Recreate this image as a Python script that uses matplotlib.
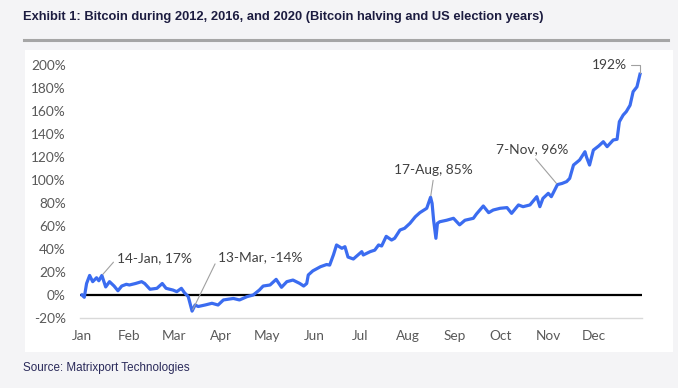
import matplotlib
matplotlib.use("Agg")
import matplotlib.pyplot as plt
from matplotlib.patches import Rectangle
from matplotlib.lines import Line2D

# ---- data (day of year 2020, cumulative return %) ----
days = [0, 1.5, 3, 5, 7, 9.5, 11, 13, 15.5, 18, 21, 23.5, 26, 29, 31, 35, 39, 41,
        44.5, 49, 52.5, 55, 59.5, 62, 65, 67, 69.5, 72, 74, 76, 80.5, 85, 89, 92.5,
        99, 103, 108, 112, 116, 118.5, 123, 127, 130.5, 134, 138, 142.5, 145, 147,
        148, 151, 156, 160, 162, 164.5, 166.5, 170, 172, 174, 177.5, 180.5, 183,
        184, 188.5, 191.5, 194, 196, 199, 202.5, 204.5, 208, 211, 214.5, 218, 221,
        223, 225.5, 228, 229, 230, 231.5, 232.5, 234, 238.5, 243, 247, 250.5, 256,
        258, 262.5, 266, 269, 273.5, 278, 281, 285.5, 288.5, 293, 297.5, 299.5,
        301.5, 305, 307, 311, 314, 317, 319, 321.5, 325.5, 329, 330, 332, 334.5,
        338, 341, 343.5, 347.5, 350, 351.5, 354, 356, 358.5, 360.5, 363, 365]
values = [0, -2, 10, 17, 11.6, 15, 12.4, 17, 7, 11.6, 7.8, 3.7, 7.8, 9.3, 8.7, 10,
          11.6, 10, 5, 5.8, 10, 5.8, 4.3, 2.9, 5.8, 2, -1.4, -14, -8.7, -10, -8.7,
          -7.2, -8.7, -4.3, -3, -4.3, -1.4, 0, 4.3, 7.8, 8.7, 13.6, 6.7, 11.6, 13,
          10, 7.8, 10, 17.4, 21, 24.6, 26.5, 26, 35, 43.5, 40.6, 42, 33, 31.3, 34.8,
          37.7, 34.8, 37.7, 39, 43.5, 42.6, 51, 47.8, 49.3, 56.5, 58, 62.3, 68, 71.6,
          73.3, 75.4, 85, 79.7, 65, 49.3, 62.3, 63.7, 65, 66.7, 61, 65, 66.7, 70.4,
          77.4, 71.6, 73.9, 75.4, 76, 71, 78.3, 76.8, 78.3, 85.5, 76.8, 84, 88.4,
          85.5, 96, 97, 98.6, 101.4, 113, 117.4, 124.6, 120, 113, 126, 129.6, 133.3,
          129, 134.8, 135.4, 150.7, 156.5, 159.4, 165, 176.8, 181, 192]

month_starts = [0, 31, 60, 91, 121, 152, 182, 213, 244, 274, 305, 335]
month_labels = ["Jan", "Feb", "Mar", "Apr", "May", "Jun", "Jul", "Aug", "Sep",
                "Oct", "Nov", "Dec"]
y_ticks = [-20, 0, 20, 40, 60, 80, 100, 120, 140, 160, 180, 200]

annotations = [  # (day, value, label)
    (13, 17, "14-Jan, 17%"),
    (72, -14, "13-Mar, -14%"),
    (228, 85, "17-Aug, 85%"),
    (311, 96, "7-Nov, 96%"),
    (365, 192, "192%"),
]

title = "Exhibit 1: Bitcoin during 2012, 2016, and 2020 (Bitcoin halving and US election years)"
source = "Source: Matrixport Technologies"

# ---- figure ----
W, H = 678, 388
fig = plt.figure(figsize=(W / 100, H / 100), dpi=100)
fig.patch.set_facecolor("#f4f4f6")

# white chart panel
fig.add_artist(Rectangle((25 / W, 1 - 352 / H), (673 - 25) / W, (352 - 50) / H,
                         transform=fig.transFigure, facecolor="white",
                         edgecolor="none", zorder=0))
# gray rule under title
fig.add_artist(Line2D([24 / W, 668 / W], [1 - 39.5 / H, 1 - 39.5 / H],
                      transform=fig.transFigure, color="#a6a6a6", lw=2.2))

fig.text(23 / W, 1 - 17 / H, title, fontsize=9.3, fontweight="bold",
         color="#1c1c40", family=["Liberation Sans"],
         ha="left", va="center")
fig.text(23 / W, 1 - 368 / H, source, fontsize=8.4, color="#2a2a5a",
         family=["Liberation Sans"], ha="left", va="center")

# axes: day 0 -> px 82, day 365 -> px 640 ; -20% -> px 318, 200% -> px 65
x0px, x1px = 82.0, 640.0
xl, xr = -1.5, 366.0
sc = (x1px - x0px) / 365
left_px = x0px + xl * sc
right_px = x0px + xr * sc
ax = fig.add_axes([left_px / W, 1 - 318 / H, (right_px - left_px) / W, (318 - 65) / H])
ax.set_facecolor("none")
ax.set_xlim(xl, xr)
ax.set_ylim(-20, 200)

ax.plot(days, values, color="#3b6cf0", lw=2.3, solid_joinstyle="round", zorder=3)
ax.axhline(0, color="black", lw=1.6, zorder=2)

for s in ["top", "right", "left"]:
    ax.spines[s].set_visible(False)
ax.spines["bottom"].set_color("#d9d9d9")
ax.spines["bottom"].set_linewidth(1.0)

lab_font = ["Lato", "DejaVu Sans"]
ax.set_xticks(month_starts)
ax.set_xticklabels(month_labels)
ax.set_yticks(y_ticks)
ax.set_yticklabels([f"{v}%" for v in y_ticks])
ax.tick_params(axis="both", length=0, labelsize=9.8, labelcolor="#595959")
ax.tick_params(axis="y", pad=10)
ax.tick_params(axis="x", pad=9)
for t in ax.get_xticklabels() + ax.get_yticklabels():
    t.set_family(lab_font)

ann_style = dict(fontsize=9.9, color="#404040", family=lab_font,
                 textcoords="offset points", zorder=4)
arrow = dict(arrowstyle="-", color="#a0a0a0", lw=0.8, shrinkA=1, shrinkB=1)

(d, v, s) = annotations[0]
ax.annotate(s, (d, v), xytext=(11, 12.6), ha="left", va="center",
            arrowprops=dict(arrow, relpos=(0, 0.5)), **ann_style)
(d, v, s) = annotations[1]
ax.annotate(s, (d, v), xytext=(19, 39), ha="left", va="center",
            arrowprops=dict(arrow, relpos=(0, 0.5)), **ann_style)
(d, v, s) = annotations[2]
ax.annotate(s, (d, v), xytext=(2.3, 19.5), ha="center", va="center",
            arrowprops=dict(arrow, relpos=(0.5, 0)), **ann_style)
(d, v, s) = annotations[3]
ax.annotate(s, (d, v), xytext=(-18, 25.6), ha="center", va="center",
            arrowprops=dict(arrow, relpos=(0.5, 0)), **ann_style)
(d, v, s) = annotations[4]
ax.annotate(s, (d, v), xytext=(-9.5, 6.5), ha="right", va="center",
            arrowprops=dict(arrow, relpos=(1, 0.5),
                            connectionstyle="angle,angleA=0,angleB=90,rad=0"),
            **ann_style)

fig.savefig("out.png", dpi=100, facecolor=fig.get_facecolor())
